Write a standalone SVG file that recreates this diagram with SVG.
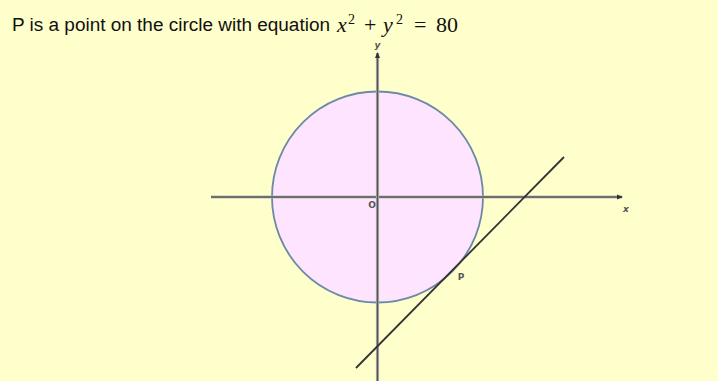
<svg xmlns="http://www.w3.org/2000/svg" width="718" height="381" viewBox="0 0 718 381">
<style>
.title{font-family:"Liberation Sans",Arial,sans-serif;font-size:18px;fill:#111}
.math{font-family:"Liberation Serif","DejaVu Serif",serif;font-size:22px;fill:#111}
.sup{font-size:14px}
.it{font-style:italic}
.lbl{font-family:"DejaVu Sans","Liberation Sans",sans-serif;font-size:9px;font-weight:bold;fill:#555}
.axis{stroke:#555;stroke-width:1.6;fill:none}
.halo{stroke:#bbb;stroke-width:3.2;fill:none}
.tan{stroke:#333;stroke-width:1.8;fill:none}
</style>
<defs>
<marker id="arr" viewBox="0 0 6 6" refX="5" refY="3" markerWidth="6" markerHeight="6" orient="auto" markerUnits="userSpaceOnUse">
<path d="M0,0.5 L6,3 L0,5.5 z" fill="#333"/>
</marker>
</defs>
<rect width="718" height="381" fill="#FFFFCC"/>
<text class="title" x="12" y="31" textLength="318" lengthAdjust="spacingAndGlyphs">P is a point on the circle with equation</text>
<g class="math">
<text x="337" y="32" class="it">x</text>
<text x="348" y="24" class="sup">2</text>
<text x="364" y="32">+</text>
<text x="383" y="32" class="it">y</text>
<text x="396" y="24" class="sup">2</text>
<text x="414" y="32">=</text>
<text x="436" y="32">80</text>
</g>
<g id="circle">
<circle cx="377.5" cy="197" r="105.5" fill="#FFE4FF" stroke="#6A8AA6" stroke-width="1.8"/>
</g>
<g id="connectors">
<line class="halo" x1="211" y1="197" x2="622" y2="197"/>
<line class="axis" x1="211" y1="197" x2="622" y2="197" marker-end="url(#arr)"/>
<line class="halo" x1="377.5" y1="381" x2="377.5" y2="53"/>
<line class="axis" x1="377.5" y1="381" x2="377.5" y2="53" marker-end="url(#arr)"/>
<line class="tan" x1="564" y1="157" x2="356" y2="368"/>
</g>
<g id="labels">
<text class="lbl" x="377.5" y="48" text-anchor="middle" font-style="italic">y</text>
<text class="lbl" x="626" y="212" text-anchor="middle" font-style="italic">x</text>
<text class="lbl" x="372" y="208" text-anchor="middle" font-size="10">O</text>
<text class="lbl" x="461" y="280" text-anchor="middle">P</text>
</g>
</svg>
